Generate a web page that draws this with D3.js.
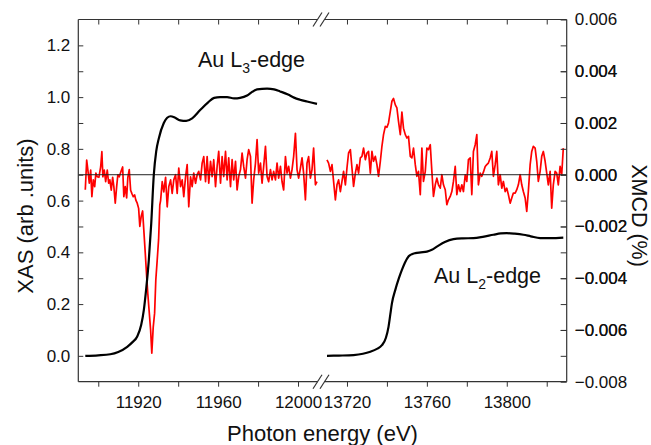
<!DOCTYPE html>
<html>
<head>
<meta charset="utf-8">
<script src="https://cdn.jsdelivr.net/npm/d3@7"></script>
<style>
  html, body { margin: 0; padding: 0; background: #fff; }
  svg { display: block; }
  text { font-family: "Liberation Sans", Arial, sans-serif; fill: #111; }
</style>
</head>
<body>
<svg id="chart" width="651" height="445"></svg>
<script>
// ---------------- DATA ----------------
// Au L3-edge XAS (black)
const l3XasEnergy = [11893.5,11900,11906,11910,11914.5,11917,11919.5,11921.5,11922.8,11924,11925.3,11926.5,11927.8,11929,11930.3,11932.8,11934.5,11936.2,11938.5,11941,11944,11947,11951,11955,11958,11961,11964.5,11968,11971,11974.5,11977,11979.5,11984.5,11988,11991,11995,11998,12001,12004.5,12009.5];
const l3Xas = [0.0,0.002,0.006,0.015,0.035,0.052,0.075,0.12,0.177,0.26,0.37,0.51,0.70,0.79,0.84,0.90,0.92,0.926,0.92,0.91,0.908,0.918,0.95,0.98,0.997,1.0,1.0,0.995,0.997,1.006,1.02,1.03,1.033,1.03,1.022,1.01,0.998,0.99,0.983,0.974];

// Au L2-edge XAS (black)
const l2XasEnergy = [13710,13716,13723.3,13728,13731.7,13735,13737.5,13739.5,13740.8,13741.7,13742.5,13744.2,13746,13747.5,13749,13750.8,13752.5,13754.2,13757,13760,13762.5,13765,13769,13773.3,13778,13783.3,13788,13793.3,13797,13800,13804,13808.3,13812,13816.7,13822,13828.3];
const l2Xas = [0.0,0.001,0.003,0.008,0.016,0.027,0.041,0.07,0.112,0.16,0.203,0.255,0.30,0.332,0.36,0.384,0.393,0.397,0.40,0.403,0.41,0.422,0.44,0.451,0.454,0.455,0.46,0.468,0.473,0.474,0.472,0.468,0.462,0.455,0.455,0.457];

// XMCD at L3 (red), values in units of 1e-3 %
const l3XmcdEnergy = [11893.5,11894.2,11894.8,11895.5,11896.2,11896.8,11897.5,11898.2,11898.8,11899.5,11900.3,11901.2,11901.8,11902.3,11903.0,11903.7,11904.5,11905.2,11905.8,11906.5,11907.2,11907.8,11908.5,11909.2,11909.8,11910.5,11911.5,11912.2,11912.8,11913.5,11914.2,11914.8,11915.5,11916.2,11916.8,11917.5,11918.2,11918.8,11919.5,11920.2,11920.8,11921.5,11922.2,11922.8,11923.5,11924.2,11924.8,11925.5,11926.2,11926.8,11927.5,11928.2,11928.8,11929.5,11930.2,11930.8,11931.2,
11932.0,11932.8,11933.7,11934.5,11935.3,11936.2,11937.0,11937.8,11938.7,11939.5,11940.3,11941.2,11942.0,11942.8,11943.7,11944.5,11945.3,11946.2,11947.0,11947.8,11948.7,11949.5,11950.3,11951.2,11952.0,11952.8,11953.7,11954.5,11955.3,11956.2,11957.0,11957.8,11958.7,11959.5,11960.3,11961.2,11962.0,11962.8,11963.7,11964.5,11965.3,11966.2,11967.0,11967.8,11968.7,11969.5,11970.3,
11971.2,11972.0,11972.8,11973.7,11974.5,11975.3,11976.2,11977.0,11977.8,11978.7,11979.5,11980.3,11981.2,11982.0,11982.8,11983.7,11984.5,11985.3,11986.2,11987.0,11987.8,11988.7,11989.5,11990.3,11991.2,11992.0,11992.8,11993.7,11994.5,11995.3,11996.2,11997.0,11997.8,11998.7,11999.5,12000.3,12001.2,12002.0,12002.8,12003.7,12004.5,12005.3,12006.2,12007.0,12007.8,12008.7,12009.5];
const l3Xmcd = [-0.58,0.57,0.18,-0.33,0.18,-0.85,-0.2,-0.46,0.06,-0.08,-0.1,0.3,0.89,-0.08,0.18,-0.27,0.18,-0.33,-0.2,-0.6,-0.1,-0.46,-1.1,-0.46,0.0,-0.08,0.15,0.3,-0.85,-0.46,-0.9,-0.1,0.2,-0.6,-0.72,-0.85,-0.78,-0.98,-1.1,-1.3,-2.0,-1.6,-1.4,-2.14,-3.0,-3.9,-4.6,-5.3,-6.0,-6.9,-5.9,-5.35,-4.07,-3.3,-2.5,-1.17,-1.0,
-0.27,-0.66,-0.1,-1.24,-0.46,-0.2,-0.72,-0.2,0.0,-0.72,0.26,-0.46,-0.2,-0.85,-0.08,0.39,-1.24,-0.08,-0.46,0.06,-0.33,0.0,0.13,-0.2,0.45,0.7,-0.27,0.7,-0.33,0.52,-0.07,0.58,-0.46,0.32,0.9,-0.33,0.7,-0.07,0.9,-0.2,0.65,-0.46,0.58,-0.2,0.52,-0.59,-0.07,
0.2,0.84,0.32,-0.13,0.58,0.97,0.71,-1.1,-0.2,0.45,1.36,0.06,0.45,-0.33,0.32,1.1,-0.07,-0.27,0.2,-0.2,0.13,-0.2,0.45,-0.13,0.32,-0.27,-0.59,0.7,0.06,0.32,-0.13,0.2,0.7,1.6,0.2,-0.13,0.26,0.65,0.06,-0.97,0.45,0.7,-0.13,0.2,1.03,-0.39,-0.27];

// XMCD at L2 (red), values in units of 1e-3 %
const l2XmcdEnergy = [13710.0,13710.8,13711.7,13712.5,13713.3,13714.2,13715.0,13715.8,13716.7,13717.5,13718.3,13719.2,13720.0,13720.8,13721.7,13722.5,13723.3,13724.2,13725.0,13725.8,13726.7,13727.5,13728.3,13729.2,13730.0,13730.8,13731.7,13732.5,13733.3,13734.2,13735.0,13735.8,13736.7,13737.5,13738.3,13739.2,13740.0,13740.8,13741.7,13742.5,13743.3,13744.2,13745.0,13745.8,13746.7,13747.5,
13748.3,13749.2,13750.0,13750.8,13751.7,13752.5,13753.3,13754.2,13755.0,13755.8,13756.7,13757.5,13758.3,13759.2,13760.0,13760.8,13761.7,13762.5,13763.3,13764.2,13765.0,13765.8,13766.7,13767.5,13768.3,13769.2,13770.0,13770.8,13771.7,13772.5,13773.3,13774.2,13775.0,13775.8,13776.7,13777.5,13778.3,13779.2,13780.0,13780.8,13781.7,13782.5,13783.3,13784.2,13785.0,13785.8,13786.7,
13787.5,13788.3,13789.2,13790.0,13790.8,13791.7,13792.5,13793.3,13794.2,13795.0,13795.8,13796.7,13797.5,13798.3,13799.2,13800.0,13800.8,13801.7,13802.5,13803.3,13804.2,13805.0,13805.8,13806.7,13807.5,13808.3,13809.2,13810.0,13810.8,13811.7,13812.5,13813.3,13814.2,13815.0,13815.8,13816.7,13817.5,13818.3,13819.2,13820.0,13820.8,13821.7,13822.5,13823.3,13824.2,13825.0,13825.8,13826.7,13827.5,13828.3];
const l2Xmcd = [0.57,0.45,0.13,0.39,-0.26,-0.97,-0.39,-0.2,-0.65,-0.26,0.13,-0.39,0.26,0.84,0.97,0.26,-0.45,0.06,0.39,0.06,0.65,0.71,1.03,0.58,0.84,0.9,0.06,0.9,0.52,0.71,0.39,-0.06,0.52,1.1,1.55,1.87,1.83,2.0,2.45,2.84,2.95,2.7,2.58,2.06,1.55,2.42,
1.8,1.55,1.42,1.48,0.71,0.65,1.03,0.39,-0.06,0.13,-0.77,1.03,-0.26,0.13,1.03,0.97,1.16,0.13,-0.84,-0.39,-0.13,-0.39,-0.52,0.0,-0.39,-0.58,-1.16,-0.97,-0.84,-0.65,-0.26,0.32,-0.77,-0.39,-0.65,-0.39,-0.65,0.0,-0.26,0.58,0.65,-0.77,0.9,1.16,1.55,-0.39,0.06,
-0.06,0.1,0.32,0.39,0.45,0.65,0.9,-0.06,0.39,0.9,-0.39,0.0,-0.52,-0.26,-0.65,-0.52,-0.77,-1.1,-0.9,-0.71,-0.71,-0.58,-0.39,0.0,-0.39,-0.65,-0.9,-1.42,-0.65,0.39,0.9,1.1,1.03,0.52,-0.26,0.13,0.71,0.9,0.52,0.06,-0.39,0.13,-1.29,-0.39,0.13,0.06,-0.39,0.32,0.0,1.03];
const xmcdUnit = 1e-3;

// axis ticks / labels
const xTicksLeft = [11900, 11920, 11940, 11960, 11980, 12000];
const xLabelsLeft = [11920, 11960, 12000];
const xTicksRight = [13720, 13740, 13760, 13780, 13800, 13820];
const xLabelsRight = [13720, 13760, 13800];
const yLeftTicks = [0.0,0.1,0.2,0.3,0.4,0.5,0.6,0.7,0.8,0.9,1.0,1.1,1.2];
const yLeftLabels = [0.0,0.2,0.4,0.6,0.8,1.0,1.2];
const yRightTicks = [-0.007,-0.006,-0.005,-0.004,-0.003,-0.002,-0.001,0,0.001,0.002,0.003,0.004,0.005];
const yRightLabels = [-0.008,-0.006,-0.004,-0.002,0,0.002,0.004,0.006];
const xDomainLeft = [11890, 12011.5];
const xDomainRight = [13707, 13830];
const yDomainLeft = [-0.1, 1.3];
const yDomainRight = [-0.008, 0.006];

// ---------------- LAYOUT ----------------
const L = 78.3, R = 566.7, T = 19.5, B = 381.7;
const spanL = xDomainLeft[1] - xDomainLeft[0];
const spanR = xDomainRight[1] - xDomainRight[0];
const breakX = L + (R - L) * spanL / (spanL + spanR);

const svg = d3.select("#chart");
const xL = d3.scaleLinear().domain(xDomainLeft).range([L, breakX]);
const xR = d3.scaleLinear().domain(xDomainRight).range([breakX, R]);
const yL = d3.scaleLinear().domain(yDomainLeft).range([B, T]);
const yR = d3.scaleLinear().domain(yDomainRight).range([B, T]);

const frameColor = "#333";
const tickFont = 17;

// ---------------- CURVES ----------------
const zip = (a, b) => a.map((v, i) => [v, b[i]]);
const lineXasL = d3.line().x(d => xL(d[0])).y(d => yL(d[1])).curve(d3.curveMonotoneX);
const lineXasR = d3.line().x(d => xR(d[0])).y(d => yL(d[1])).curve(d3.curveMonotoneX);
const lineMcdL = d3.line().x(d => xL(d[0])).y(d => yR(d[1] * xmcdUnit));
const lineMcdR = d3.line().x(d => xR(d[0])).y(d => yR(d[1] * xmcdUnit));

svg.append("path").attr("d", lineMcdL(zip(l3XmcdEnergy, l3Xmcd)))
  .attr("fill", "none").attr("stroke", "#ff0000").attr("stroke-width", 1.7).attr("stroke-linejoin", "round");
svg.append("path").attr("d", lineMcdR(zip(l2XmcdEnergy, l2Xmcd)))
  .attr("fill", "none").attr("stroke", "#ff0000").attr("stroke-width", 1.7).attr("stroke-linejoin", "round");

// zero line of XMCD
svg.append("line").attr("x1", L).attr("x2", R).attr("y1", yR(0)).attr("y2", yR(0))
  .attr("stroke", "#222").attr("stroke-width", 1);

svg.append("path").attr("d", lineXasL(zip(l3XasEnergy, l3Xas)))
  .attr("fill", "none").attr("stroke", "#000").attr("stroke-width", 2.2);
svg.append("path").attr("d", lineXasR(zip(l2XasEnergy, l2Xas)))
  .attr("fill", "none").attr("stroke", "#000").attr("stroke-width", 2.2);

// ---------------- AXES ----------------
function styleAxis(g) {
  g.select(".domain").remove();
  g.selectAll(".tick line").attr("stroke", frameColor).attr("stroke-width", 1);
  g.selectAll(".tick text").attr("font-size", tickFont).attr("font-family", "Liberation Sans, Arial, sans-serif").attr("fill", "#111");
}
const fmtX = labels => d => labels.includes(d) ? String(d) : "";

svg.append("g").attr("transform", `translate(0,${B})`)
  .call(d3.axisBottom(xL).tickValues(xTicksLeft).tickSize(5).tickPadding(9).tickFormat(fmtX(xLabelsLeft))).call(styleAxis);
svg.append("g").attr("transform", `translate(0,${B})`)
  .call(d3.axisBottom(xR).tickValues(xTicksRight).tickSize(5).tickPadding(9).tickFormat(fmtX(xLabelsRight))).call(styleAxis);
svg.append("g").attr("transform", `translate(0,${T})`)
  .call(d3.axisBottom(xL).tickValues(xTicksLeft).tickSize(5).tickFormat("")).call(styleAxis);
svg.append("g").attr("transform", `translate(0,${T})`)
  .call(d3.axisBottom(xR).tickValues(xTicksRight).tickSize(5).tickFormat("")).call(styleAxis);

const fmtYL = d3.format(".1f");
svg.append("g").attr("transform", `translate(${L},0)`)
  .call(d3.axisLeft(yL).tickValues(yLeftTicks).tickSize(-5).tickPadding(8)
    .tickFormat(d => yLeftLabels.some(v => Math.abs(v - d) < 1e-9) ? fmtYL(d) : "")).call(styleAxis);
const fmtYR = d3.format(".3f");
svg.append("g").attr("transform", `translate(${R},0)`)
  .call(d3.axisRight(yR).tickValues(yRightTicks.concat(yRightLabels)).tickSize(-6).tickPadding(8)
    .tickFormat(d => yRightLabels.some(v => Math.abs(v - d) < 1e-9) ? fmtYR(d).replace("-0.000", "0.000") : "")).call(styleAxis);

// ---------------- FRAME with break ----------------
const gap = 3.5;
const frame = svg.append("g").attr("stroke", frameColor).attr("stroke-width", 1.2).attr("fill", "none");
frame.append("line").attr("x1", L).attr("x2", L).attr("y1", T).attr("y2", B);
frame.append("line").attr("x1", R).attr("x2", R).attr("y1", T).attr("y2", B);
[T, B].forEach(y => {
  frame.append("line").attr("x1", L).attr("x2", breakX - gap).attr("y1", y).attr("y2", y);
  frame.append("line").attr("x1", breakX + gap).attr("x2", R).attr("y1", y).attr("y2", y);
  [-gap, gap].forEach(dx => {
    frame.append("line")
      .attr("x1", breakX + dx - 4.5).attr("y1", y + 7)
      .attr("x2", breakX + dx + 4.5).attr("y2", y - 7);
  });
});

// ---------------- TITLES ----------------
svg.append("text").attr("x", 322.5).attr("y", 441).attr("text-anchor", "middle")
  .attr("font-size", 22).text("Photon energy (eV)");
svg.append("text").attr("transform", `translate(33,216) rotate(-90)`).attr("text-anchor", "middle")
  .attr("font-size", 22).text("XAS (arb .units)");
svg.append("text").attr("transform", `translate(632,215.5) rotate(90)`).attr("text-anchor", "middle")
  .attr("font-size", 21.5).text("XMCD (%)");

function edgeLabel(x, y, sub) {
  const t = svg.append("text").attr("x", x).attr("y", y).attr("font-size", 21.5);
  t.append("tspan").text("Au L");
  t.append("tspan").attr("font-size", 14).attr("dy", 6).text(sub);
  t.append("tspan").attr("dy", -6).text("-edge");
}
edgeLabel(198, 67, "3");
edgeLabel(434, 283, "2");
</script>
</body>
</html>
